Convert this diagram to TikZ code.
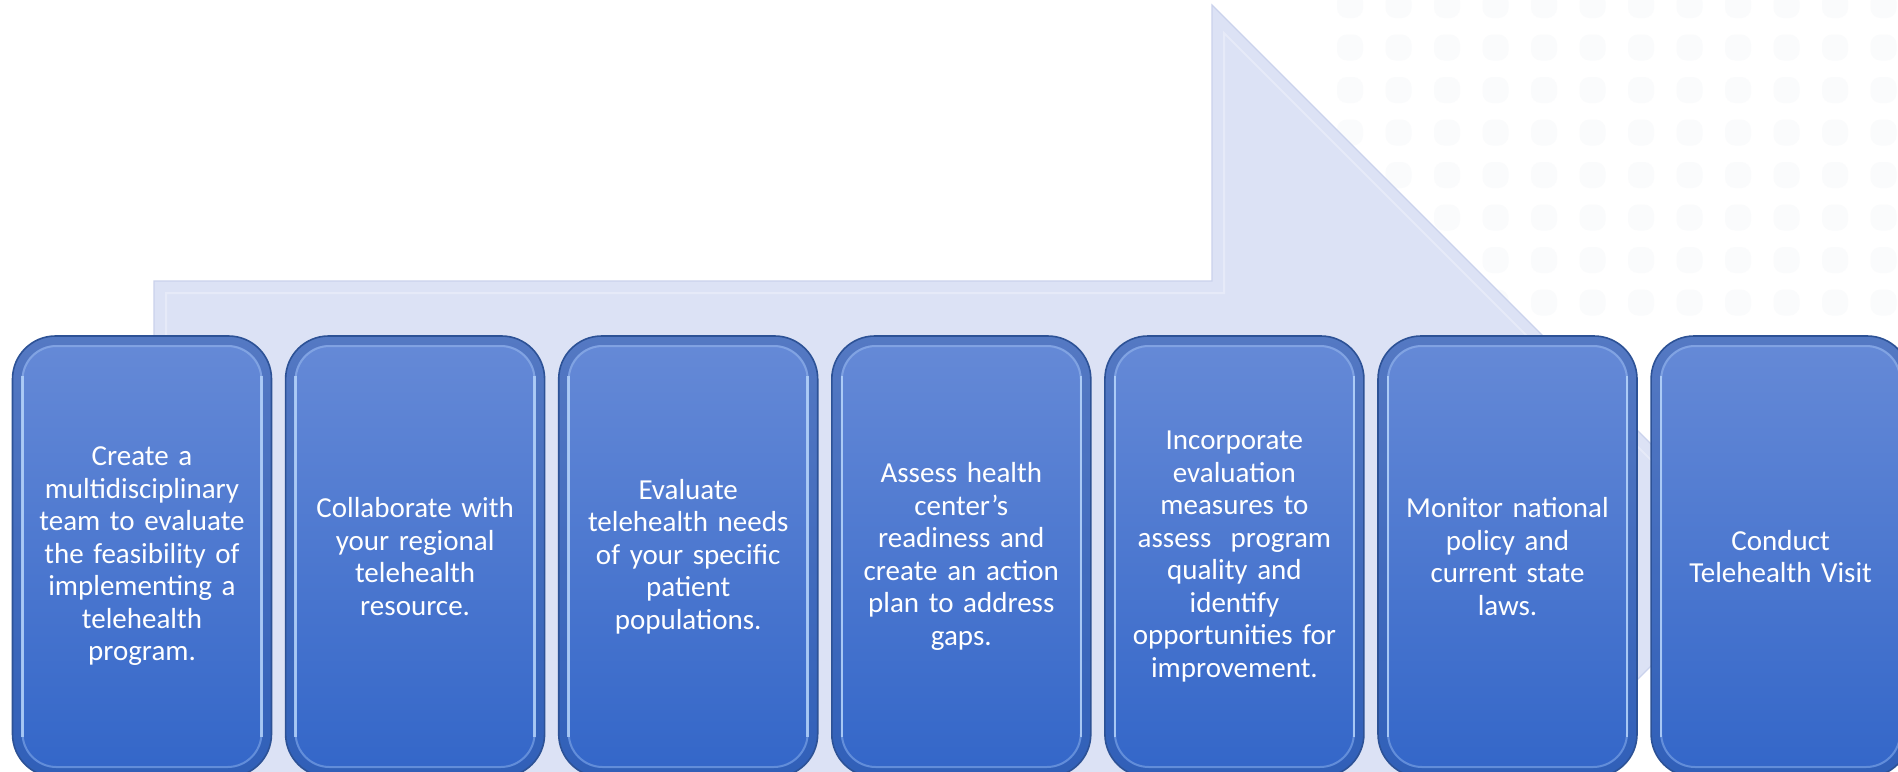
\documentclass[tikz,border=0pt]{standalone}
\usepackage{fontspec}
\setmainfont{Carlito}
\usepackage{xcolor}
\usetikzlibrary{positioning}

\definecolor{ArrowFill}{HTML}{DCE2F5}
\definecolor{ArrowLine}{HTML}{CAD2EC}
\definecolor{BoxTop}{HTML}{668AD7}
\definecolor{BoxBottom}{HTML}{3366C8}
\definecolor{BoxRim}{HTML}{2D5296}
\definecolor{BoxGlow}{HTML}{B8D6FB}
\definecolor{DotGrey}{HTML}{FAFBFC}

\begin{document}
\begin{tikzpicture}[
			x=0.5pt, y=-0.5pt,
			StepCfg/.style={
				draw=BoxRim, line width=0.8pt,
				rounded corners=21.5pt,
				top color=BoxTop, bottom color=BoxBottom,
				minimum width=129.5pt, minimum height=220.5pt,
				inner sep=0pt, text width=112pt, align=center,
				text=white, font=\fontsize{14.5}{16.25}\selectfont,
				path picture={
					\draw[BoxRim, opacity=0.3, line width=9pt, rounded corners=21.5pt]
					(path picture bounding box.north west) rectangle
					(path picture bounding box.south east);
					\draw[BoxGlow, opacity=0.35, line width=1pt, rounded corners=17pt]
					([shift={(5pt,-5pt)}]path picture bounding box.north west) rectangle
					([shift={(-5pt,5pt)}]path picture bounding box.south east);
					\draw[BoxGlow, opacity=0.8, line width=1.3pt]
					([shift={(5pt,-20pt)}]path picture bounding box.north west) --
					([shift={(5pt,20pt)}]path picture bounding box.south west)
					([shift={(-5pt,-20pt)}]path picture bounding box.north east) --
					([shift={(-5pt,20pt)}]path picture bounding box.south east);
				}
			}
			]
			
			\useasboundingbox (0,0) rectangle (1898,771);
			\clip (0,0) rectangle (1898,771);
			\fill[white] (0,0) rectangle (1898,771);
			
			% faint dotted backdrop
			\foreach \i in {0,...,11}
				\foreach \j in {0,...,7}
					\fill[DotGrey, rounded corners=5pt] (1350+48.5*\i-13,5+42.5*\j-13) rectangle ++(26,26);
			
			% big arrow behind the steps
			\filldraw[fill=ArrowFill, draw=ArrowLine, line width=0.6pt]
			(154,829) -- (154,281) -- (1212,281) -- (1212,5) -- (1762,555) -- (1212,1105) -- (1212,829) -- cycle;
			\draw[white, opacity=0.3, line width=1pt]
			(166,829) -- (166,293) -- (1224,293) -- (1224,33) -- (1746,555);
			
			\path
			(142,556.5) node [StepCfg] (team)
			{Create a\\ multidisciplinary\\ team to evaluate\\ the feasibility of\\ implementing a\\ telehealth\\ program.}
			node [StepCfg, right=6.25pt of team] (partner)
			{Collaborate with\\ your regional\\ telehealth\\ resource.}
			node [StepCfg, right=6.25pt of partner] (needs)
			{Evaluate\\ telehealth needs\\ of your specific\\ patient\\ populations.}
			node [StepCfg, right=6.25pt of needs] (ready)
			{Assess health\\ center’s\\ readiness and\\ create an action\\ plan to address\\ gaps.}
			node [StepCfg, right=6.25pt of ready] (measure)
			{Incorporate\\ evaluation\\ measures to\\ assess~ program\\ quality and\\ identify\\ opportunities for\\ improvement.}
			node [StepCfg, right=6.25pt of measure] (policy)
			{Monitor national\\ policy and\\ current state\\ laws.}
			node [StepCfg, right=6.25pt of policy] (visit)
			{Conduct\\ Telehealth Visit};
			
		\end{tikzpicture}
\end{document}
